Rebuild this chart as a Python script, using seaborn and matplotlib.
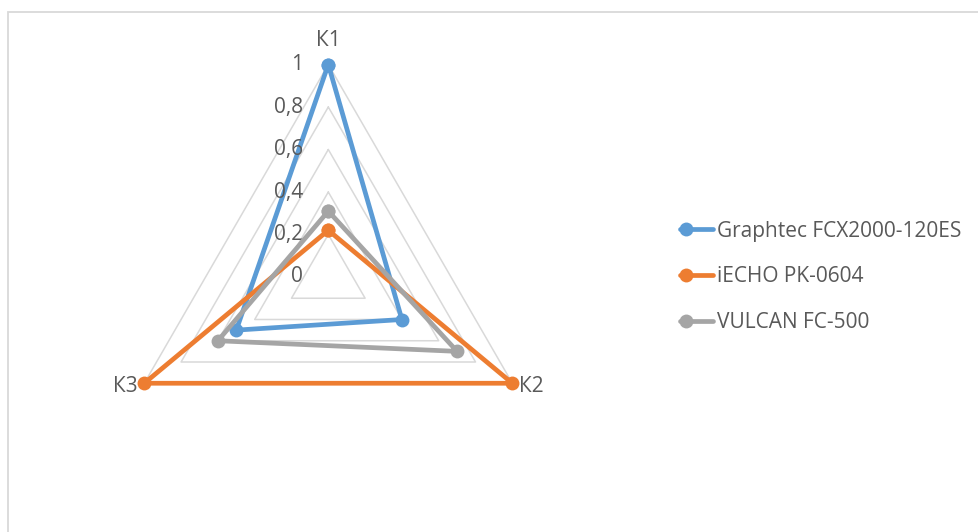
import numpy as np
import pandas as pd
import matplotlib
matplotlib.use("Agg")
import matplotlib.pyplot as plt
import matplotlib.transforms as mtransforms
from matplotlib.legend_handler import HandlerLine2DCompound
from matplotlib.patches import Rectangle
import seaborn as sns

# Criteria (radar axes) and the normalised score of each cutter
categories = ["К1", "К2", "К3"]
series_names = ["Graphtec FCX2000-120ES", "iECHO PK-0604", "VULCAN FC-500"]
graphtec = [1.0, 0.40, 0.50]
iecho = [0.22, 1.0, 1.0]
vulcan = [0.31, 0.70, 0.60]
radial_ticks = [0, 0.2, 0.4, 0.6, 0.8, 1.0]
radial_labels = ["0", "0,2", "0,4", "0,6", "0,8", "1"]

colors = ["#5B9BD5", "#ED7D31", "#A5A5A5"]
text_color = "#595959"
grid_color = "#D9D9D9"

sns.set_theme(style="white")
plt.rcParams["font.family"] = ["Open Sans", "DejaVu Sans"]

W, H = 979, 532
fig = plt.figure(figsize=(W / 100, H / 100), dpi=100)

# thin frame around the chart area (left and top edges visible)
fig.patches.append(Rectangle((8 / W, -0.05), 1.2, 1 - 12 / H + 0.05,
                             transform=fig.transFigure, fill=False,
                             edgecolor=grid_color, linewidth=1.3))

cx, cy, R = 328.3, 277.0, 212.5
ax = fig.add_axes([(cx - R) / W, (H - cy - R) / H, 2 * R / W, 2 * R / H],
                  projection="polar")
ax.set_theta_offset(np.pi / 2)
ax.set_theta_direction(-1)
ax.set_ylim(0, 1)
ax.grid(False)
ax.set_xticks([])
ax.set_yticks([])
ax.spines["polar"].set_visible(False)
ax.patch.set_alpha(0)

n = len(categories)
theta = np.arange(n) * 2 * np.pi / n
theta_closed = np.append(theta, theta[0])

# triangular grid
for lvl in radial_ticks[1:]:
    ax.plot(theta_closed, [lvl] * (n + 1), color=grid_color, lw=1.1,
            zorder=1, clip_on=False)

values = [graphtec, iecho, vulcan]
rows = []
for name, vals in zip(series_names, values):
    closed = list(vals) + [vals[0]]
    for t, v in zip(theta_closed, closed):
        rows.append({"theta": t, "value": v, "series": name})
df = pd.DataFrame(rows)

for i, (name, col) in enumerate(zip(series_names, colors)):
    sub = df[df["series"] == name]
    sns.lineplot(data=sub, x="theta", y="value", ax=ax, color=col,
                 sort=False, estimator=None, marker="o", markersize=10,
                 markeredgewidth=0, linewidth=3.4, label=name,
                 clip_on=False, zorder=3 + i)
ax.set_xlabel("")
ax.set_ylabel("")
ax.get_legend().remove()

fs = 15
# radial value labels beside the vertical axis
lab_tr = mtransforms.offset_copy(ax.transData, fig=fig, x=-25, y=0, units="dots")
for r, lab in zip(radial_ticks, radial_labels):
    ax.text(0, r, lab, transform=lab_tr, ha="right", va="center",
            fontsize=fs, color=text_color)

# category labels at the vertices
cat_offsets = [(0, 24, "center"), (7, -3, "left"), (-7, -3, "right")]
for t, lab, (dx, dy, ha) in zip(theta, categories, cat_offsets):
    tr = mtransforms.offset_copy(ax.transData, fig=fig, x=dx, y=dy, units="dots")
    ax.text(t, 1.0, lab, transform=tr, ha=ha, va="center",
            fontsize=fs, color=text_color)


class LeftMarkerHandler(HandlerLine2DCompound):
    """Legend key with the marker sitting at the left end of the line."""
    def get_xdata(self, legend, xdescent, ydescent, width, height, fontsize):
        xdata = np.array([-xdescent, -xdescent + width])
        return xdata, np.array([-xdescent + 0.18 * width])


handles, labels = ax.get_legend_handles_labels()
leg = fig.legend(handles, labels, loc="center left",
                 bbox_to_anchor=(680 / W, 1 - 277 / H), frameon=False,
                 fontsize=fs, labelcolor=text_color, borderpad=0,
                 borderaxespad=0,
                 handlelength=1.6, handletextpad=0.2, labelspacing=1.2,
                 handler_map={h: LeftMarkerHandler() for h in handles})

fig.savefig("out.png", dpi=100)
